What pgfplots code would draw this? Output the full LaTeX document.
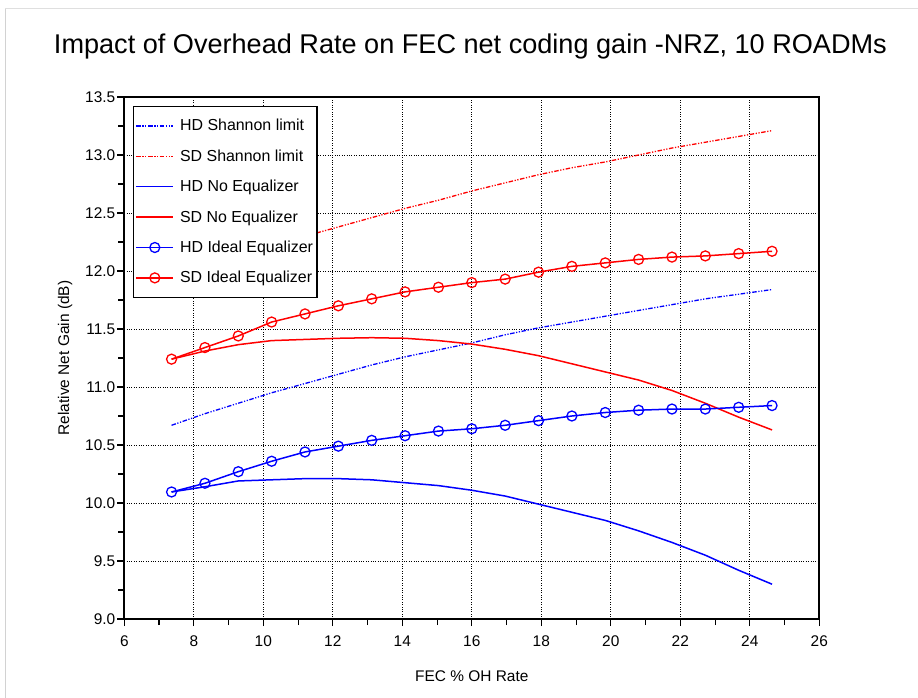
\documentclass[border=0pt]{standalone}
\usepackage{fontspec}
\setmainfont{Liberation Sans}
\usepackage{pgfplots}
\pgfplotsset{compat=1.18}
\begin{document}
\begin{tikzpicture}
\path[use as bounding box] (-124.3bp,-79bp) rectangle (793.7bp,619bp);
\draw[gray!35, line width=0.8bp] (-118.8bp,-79bp) -- (-118.8bp,611bp);
\draw[gray!25, line width=0.8bp] (-118.8bp,611bp) -- (793.7bp,611bp);
\begin{axis}[
  at={(0,0)}, anchor=south west,
  scale only axis, width=695bp, height=522bp,
  xmin=6, xmax=26, ymin=9, ymax=13.5,
  xtick={6,8,...,26}, ytick={9,9.5,...,13.5},
  minor xtick={7,9,...,25}, minor ytick={9.25,9.75,...,13.25},
  xtick pos=lower, ytick pos=left,
  tick align=outside,
  major tick length=7bp, minor tick length=6bp,
  every tick/.style={black, line width=1.1bp},
  /pgf/number format/assume math mode=true,
  ticklabel style={font=\fontsize{15.5}{18}\selectfont},
  xticklabel style={yshift=-6bp},
  yticklabel style={/pgf/number format/fixed, /pgf/number format/fixed zerofill, /pgf/number format/precision=1, xshift=1.5bp},
  grid=major,
  major grid style={black, dotted, line width=0.9bp},
  axis line style={line width=1.8bp},
  title={Impact of Overhead Rate on FEC net coding gain -NRZ, 10 ROADMs},
  title style={at={(0.498,1.0715)}, anchor=base, font=\fontsize{27.2}{31}\selectfont, inner sep=0pt},
  xlabel={FEC \% OH Rate},
  xlabel style={at={(0.500,-0.109)}, anchor=center, font=\fontsize{15.5}{18}\selectfont},
  ylabel={Relative Net Gain (dB)},
  ylabel style={at={(-0.085,0.5)}, anchor=center, rotate=0, font=\fontsize{15.5}{18}\selectfont},
  legend cell align=left,
  legend image code/.code={\draw[mark repeat=2,mark phase=2,#1] plot coordinates {(0bp,0bp) (18.5bp,0bp) (37bp,0bp)};},
  legend style={at={(0.0125,0.983)}, anchor=north west, draw=black, line width=1.2bp, fill=white,
    font=\fontsize{16}{19}\selectfont, row sep=9.4bp, inner xsep=2bp, inner ysep=9bp,
    nodes={text depth=3.5bp, text height=13.5bp}},
  dashdotdot/.style={dash pattern=on 4.5bp off 1.6bp on 1.2bp off 1.6bp on 1.2bp off 1.6bp},
]
\addplot[blue, line width=1.3bp, dashdotdot] coordinates {
(7.36,10.67) (8.32,10.77) (9.28,10.86) (10.24,10.95) (11.20,11.03) (12.16,11.11)
(13.12,11.19) (14.08,11.26) (15.04,11.32) (16.00,11.38) (16.96,11.45) (17.92,11.51)
(18.88,11.56) (19.84,11.61) (20.80,11.66) (21.76,11.71) (22.72,11.76) (23.68,11.80) (24.64,11.84)};
\addlegendentry{\hspace{4bp}HD Shannon limit}
\addplot[red, line width=1.3bp, dashdotdot] coordinates {
(7.36,11.93) (8.32,12.03) (9.28,12.13) (10.24,12.22) (11.20,12.30) (12.16,12.38)
(13.12,12.46) (14.08,12.54) (15.04,12.61) (16.00,12.69) (16.96,12.76) (17.92,12.83)
(18.88,12.89) (19.84,12.94) (20.80,13.00) (21.76,13.06) (22.72,13.11) (23.68,13.16) (24.64,13.21)};
\addlegendentry{\hspace{4bp}SD Shannon limit}
\addplot[blue, line width=1.5bp] coordinates {
(7.36,10.095) (8.32,10.14) (9.28,10.19) (10.24,10.20) (11.20,10.21) (12.16,10.21)
(13.12,10.20) (14.08,10.175) (15.04,10.15) (16.00,10.11) (16.96,10.06) (17.92,9.99)
(18.88,9.92) (19.84,9.85) (20.80,9.76) (21.76,9.66) (22.72,9.55) (23.68,9.42) (24.64,9.30)};
\addlegendentry{\hspace{4bp}HD No Equalizer}
\addplot[red, line width=1.5bp] coordinates {
(7.36,11.24) (8.32,11.31) (9.28,11.365) (10.24,11.40) (11.20,11.41) (12.16,11.42)
(13.12,11.425) (14.08,11.42) (15.04,11.40) (16.00,11.37) (16.96,11.325) (17.92,11.27)
(18.88,11.20) (19.84,11.13) (20.80,11.06) (21.76,10.97) (22.72,10.86) (23.68,10.74) (24.64,10.63)};
\addlegendentry{\hspace{4bp}SD No Equalizer}
\addplot[blue, line width=1.5bp, mark=o, mark size=5bp, mark options={fill=white, line width=1.3bp}] coordinates {
(7.36,10.095) (8.32,10.17) (9.28,10.27) (10.24,10.36) (11.20,10.44) (12.16,10.49)
(13.12,10.54) (14.08,10.58) (15.04,10.62) (16.00,10.64) (16.96,10.67) (17.92,10.71)
(18.88,10.75) (19.84,10.78) (20.80,10.80) (21.76,10.81) (22.72,10.81) (23.68,10.825) (24.64,10.84)};
\addlegendentry{\hspace{4bp}HD Ideal Equalizer}
\addplot[red, line width=1.5bp, mark=o, mark size=5bp, mark options={fill=white, line width=1.3bp}] coordinates {
(7.36,11.24) (8.32,11.34) (9.28,11.44) (10.24,11.56) (11.20,11.63) (12.16,11.70)
(13.12,11.76) (14.08,11.82) (15.04,11.86) (16.00,11.90) (16.96,11.93) (17.92,11.99)
(18.88,12.04) (19.84,12.07) (20.80,12.10) (21.76,12.12) (22.72,12.13) (23.68,12.15) (24.64,12.17)};
\addlegendentry{\hspace{4bp}SD Ideal Equalizer}
\end{axis}
\end{tikzpicture}
\end{document}
